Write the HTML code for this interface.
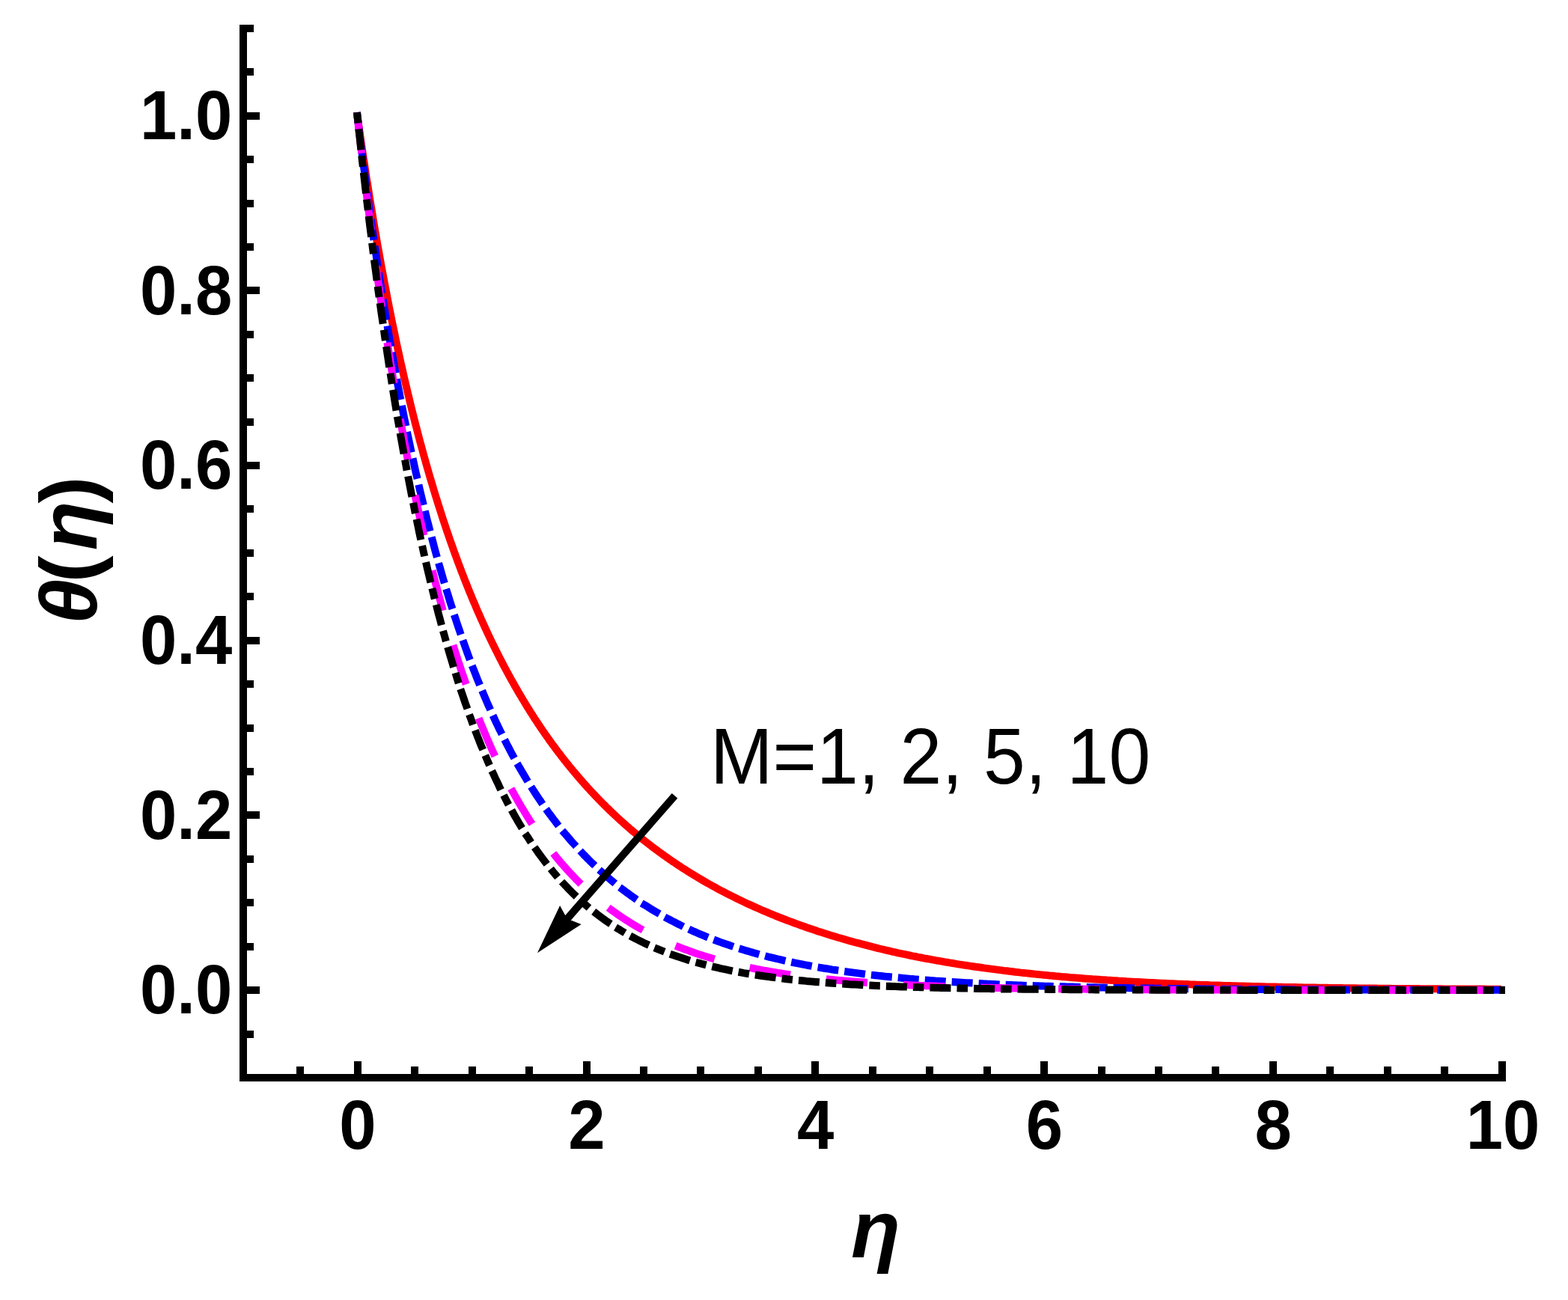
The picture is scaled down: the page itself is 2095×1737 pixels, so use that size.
<!DOCTYPE html>
<html lang="en"><head><meta charset="utf-8"><title>θ(η)</title>
<style>
html,body{margin:0;padding:0;background:#fff;}
body{width:2095px;height:1737px;overflow:hidden;}
svg{display:block;}
</style></head><body>
<svg width="2095" height="1737" viewBox="0 0 2095 1737">
<rect x="0" y="0" width="2095" height="1737" fill="#fff"/>
<g fill="#000">
<rect x="320" y="33" width="10" height="1412"/>
<rect x="320" y="1435" width="1692" height="10"/>
<rect x="320" y="1435" width="19" height="10"/>
<rect x="320" y="1377" width="19" height="10"/>
<rect x="320" y="1318" width="27" height="10"/>
<rect x="320" y="1260" width="19" height="10"/>
<rect x="320" y="1201" width="19" height="10"/>
<rect x="320" y="1143" width="19" height="10"/>
<rect x="320" y="1084" width="27" height="10"/>
<rect x="320" y="1026" width="19" height="10"/>
<rect x="320" y="968" width="19" height="10"/>
<rect x="320" y="909" width="19" height="10"/>
<rect x="320" y="851" width="27" height="10"/>
<rect x="320" y="792" width="19" height="10"/>
<rect x="320" y="734" width="19" height="10"/>
<rect x="320" y="675" width="19" height="10"/>
<rect x="320" y="617" width="27" height="10"/>
<rect x="320" y="559" width="19" height="10"/>
<rect x="320" y="500" width="19" height="10"/>
<rect x="320" y="442" width="19" height="10"/>
<rect x="320" y="383" width="27" height="10"/>
<rect x="320" y="325" width="19" height="10"/>
<rect x="320" y="267" width="19" height="10"/>
<rect x="320" y="208" width="19" height="10"/>
<rect x="320" y="150" width="27" height="10"/>
<rect x="320" y="91" width="19" height="10"/>
<rect x="320" y="33" width="19" height="10"/>
<rect x="320" y="1425" width="10" height="20"/>
<rect x="396" y="1425" width="10" height="20"/>
<rect x="473" y="1418" width="10" height="27"/>
<rect x="549" y="1425" width="10" height="20"/>
<rect x="626" y="1425" width="10" height="20"/>
<rect x="702" y="1425" width="10" height="20"/>
<rect x="779" y="1418" width="10" height="27"/>
<rect x="855" y="1425" width="10" height="20"/>
<rect x="931" y="1425" width="10" height="20"/>
<rect x="1008" y="1425" width="10" height="20"/>
<rect x="1084" y="1418" width="10" height="27"/>
<rect x="1161" y="1425" width="10" height="20"/>
<rect x="1237" y="1425" width="10" height="20"/>
<rect x="1314" y="1425" width="10" height="20"/>
<rect x="1390" y="1418" width="10" height="27"/>
<rect x="1467" y="1425" width="10" height="20"/>
<rect x="1543" y="1425" width="10" height="20"/>
<rect x="1619" y="1425" width="10" height="20"/>
<rect x="1696" y="1418" width="10" height="27"/>
<rect x="1772" y="1425" width="10" height="20"/>
<rect x="1849" y="1425" width="10" height="20"/>
<rect x="1925" y="1425" width="10" height="20"/>
<rect x="2002" y="1418" width="10" height="27"/>
</g>
<g font-family="'Liberation Sans', sans-serif" font-weight="bold" font-size="90" fill="#000">
<text transform="translate(310.3,1354.1) scale(0.985,1.036)" text-anchor="end">0.0</text>
<text transform="translate(310.3,1120.5) scale(0.985,1.036)" text-anchor="end">0.2</text>
<text transform="translate(310.3,886.9) scale(0.985,1.036)" text-anchor="end">0.4</text>
<text transform="translate(310.3,653.3) scale(0.985,1.036)" text-anchor="end">0.6</text>
<text transform="translate(310.3,419.7) scale(0.985,1.036)" text-anchor="end">0.8</text>
<text transform="translate(310.3,186.1) scale(0.985,1.036)" text-anchor="end">1.0</text>
<text transform="translate(478.0,1535.1) scale(0.985,1.036)" text-anchor="middle">0</text>
<text transform="translate(783.8,1535.1) scale(0.985,1.036)" text-anchor="middle">2</text>
<text transform="translate(1089.6,1535.1) scale(0.985,1.036)" text-anchor="middle">4</text>
<text transform="translate(1395.4,1535.1) scale(0.985,1.036)" text-anchor="middle">6</text>
<text transform="translate(1701.2,1535.1) scale(0.985,1.036)" text-anchor="middle">8</text>
<text transform="translate(2008.0,1535.1) scale(0.985,1.036)" text-anchor="middle">10</text>
</g>
<g font-family="'Liberation Sans', sans-serif" font-weight="bold" font-size="108" fill="#000">
<text x="1170" y="1680" text-anchor="middle" font-style="italic">η</text>
<text transform="translate(129,836.6) rotate(-90)" text-anchor="start"><tspan font-style="italic" dx="2.5">θ</tspan><tspan dx="-4.5">(</tspan><tspan font-style="italic" dx="7">η</tspan><tspan dx="-3">)</tspan></text>
</g>
<g fill="none" stroke-width="10" stroke-linejoin="round">
<path d="M477.5,155.0 L479.0,165.8 L480.6,176.5 L482.1,187.1 L483.6,197.5 L485.1,207.8 L486.7,217.9 L488.2,228.0 L489.7,237.9 L491.3,247.6 L492.8,257.3 L494.3,266.8 L495.9,276.2 L497.4,285.5 L498.9,294.7 L500.4,303.8 L502.0,312.7 L503.5,321.6 L505.0,330.3 L506.6,339.0 L508.1,347.5 L509.6,355.9 L511.2,364.3 L512.7,372.5 L514.2,380.6 L515.8,388.6 L517.3,396.6 L518.8,404.4 L520.3,412.2 L521.9,419.9 L523.4,427.4 L524.9,434.9 L526.5,442.3 L528.0,449.6 L529.5,456.9 L531.0,464.0 L532.6,471.1 L534.1,478.1 L535.6,485.0 L537.2,491.8 L538.7,498.6 L540.2,505.3 L541.8,511.9 L543.3,518.4 L544.8,524.9 L546.4,531.3 L547.9,537.6 L549.4,543.9 L550.9,550.0 L552.5,556.2 L554.0,562.2 L555.5,568.2 L557.1,574.1 L558.6,580.0 L560.1,585.8 L561.6,591.5 L563.2,597.2 L564.7,602.8 L566.2,608.4 L567.8,613.9 L569.3,619.3 L570.8,624.7 L572.4,630.1 L573.9,635.3 L575.4,640.6 L577.0,645.7 L578.5,650.9 L580.0,655.9 L581.5,660.9 L583.1,665.9 L584.6,670.8 L586.1,675.7 L587.7,680.5 L589.2,685.3 L590.7,690.0 L592.2,694.7 L593.8,699.3 L595.3,703.9 L596.8,708.5 L598.4,713.0 L599.9,717.4 L601.4,721.8 L603.0,726.2 L604.5,730.5 L606.0,734.8 L607.5,739.1 L609.1,743.3 L610.6,747.5 L612.1,751.6 L613.7,755.7 L615.2,759.7 L616.7,763.8 L618.3,767.7 L619.8,771.7 L621.3,775.6 L622.9,779.5 L624.4,783.3 L625.9,787.1 L627.4,790.9 L629.0,794.6 L630.5,798.3 L632.0,802.0 L633.6,805.6 L635.1,809.2 L636.6,812.8 L638.1,816.3 L639.7,819.8 L641.2,823.3 L642.7,826.8 L644.3,830.2 L645.8,833.6 L647.3,836.9 L648.9,840.3 L650.4,843.6 L651.9,846.8 L653.5,850.1 L655.0,853.3 L656.5,856.5 L658.0,859.6 L659.6,862.8 L661.1,865.9 L662.6,869.0 L664.2,872.0 L665.7,875.1 L667.2,878.1 L668.8,881.1 L670.3,884.0 L671.8,887.0 L673.3,889.9 L674.9,892.8 L676.4,895.6 L677.9,898.5 L679.5,901.3 L681.0,904.1 L682.5,906.9 L684.0,909.6 L685.6,912.3 L687.1,915.0 L688.6,917.7 L690.2,920.4 L691.7,923.0 L693.2,925.7 L694.8,928.3 L696.3,930.8 L697.8,933.4 L699.4,936.0 L700.9,938.5 L702.4,941.0 L703.9,943.5 L705.5,946.0 L707.0,948.4 L708.5,950.9 L710.1,953.3 L711.6,955.7 L713.1,958.1 L714.6,960.4 L716.2,962.8 L717.7,965.1 L719.2,967.4 L720.8,969.7 L722.3,972.0 L723.8,974.2 L725.4,976.5 L726.9,978.7 L728.4,980.9 L730.0,983.1 L731.5,985.3 L733.0,987.4 L734.5,989.6 L736.1,991.7 L737.6,993.8 L739.1,995.9 L740.7,997.9 L742.2,1000.0 L743.7,1002.1 L745.2,1004.1 L746.8,1006.1 L748.3,1008.1 L749.8,1010.1 L751.4,1012.1 L752.9,1014.0 L754.4,1016.0 L756.0,1017.9 L757.5,1019.8 L759.0,1021.7 L760.5,1023.6 L762.1,1025.5 L763.6,1027.3 L765.1,1029.2 L766.7,1031.0 L768.2,1032.8 L769.7,1034.6 L771.3,1036.4 L772.8,1038.2 L774.3,1040.0 L775.8,1041.8 L777.4,1043.5 L778.9,1045.3 L780.4,1047.0 L782.0,1048.7 L783.5,1050.4 L785.0,1052.1 L786.6,1053.8 L788.1,1055.5 L789.6,1057.1 L791.1,1058.8 L792.7,1060.4 L794.2,1062.0 L795.7,1063.6 L797.3,1065.2 L798.8,1066.8 L800.3,1068.4 L801.9,1070.0 L803.4,1071.5 L804.9,1073.1 L806.5,1074.6 L808.0,1076.1 L809.5,1077.6 L811.0,1079.2 L812.6,1080.6 L814.1,1082.1 L815.6,1083.6 L817.2,1085.1 L818.7,1086.5 L820.2,1088.0 L821.8,1089.4 L823.3,1090.8 L824.8,1092.3 L826.3,1093.7 L827.9,1095.1 L829.4,1096.5 L830.9,1097.8 L832.5,1099.2 L834.0,1100.6 L835.5,1101.9 L837.0,1103.3 L838.6,1104.6 L840.1,1105.9 L841.6,1107.3 L843.2,1108.6 L844.7,1109.9 L846.2,1111.2 L847.8,1112.5 L849.3,1113.7 L850.8,1115.0 L852.4,1116.3 L853.9,1117.5 L855.4,1118.8 L856.9,1120.0 L858.5,1121.3 L860.0,1122.5 L861.5,1123.7 L863.1,1124.9 L864.6,1126.1 L866.1,1127.3 L867.7,1128.5 L869.2,1129.7 L870.7,1130.8 L872.2,1132.0 L873.8,1133.2 L875.3,1134.3 L876.8,1135.4 L878.4,1136.6 L879.9,1137.7 L881.4,1138.8 L883.0,1139.9 L884.5,1141.0 L886.0,1142.1 L887.5,1143.2 L889.1,1144.3 L890.6,1145.4 L892.1,1146.5 L893.7,1147.5 L895.2,1148.6 L896.7,1149.6 L898.2,1150.7 L899.8,1151.7 L901.3,1152.7 L902.8,1153.8 L904.4,1154.8 L905.9,1155.8 L907.4,1156.8 L909.0,1157.8 L910.5,1158.8 L912.0,1159.8 L913.5,1160.8 L915.1,1161.8 L916.6,1162.7 L918.1,1163.7 L919.7,1164.7 L921.2,1165.6 L922.7,1166.6 L924.3,1167.5 L925.8,1168.4 L927.3,1169.4 L928.9,1170.3 L930.4,1171.2 L931.9,1172.1 L933.4,1173.1 L935.0,1174.0 L936.5,1174.9 L940.3,1177.1 L944.1,1179.3 L948.0,1181.5 L951.8,1183.6 L955.6,1185.7 L959.4,1187.8 L963.2,1189.8 L967.1,1191.8 L970.9,1193.8 L974.7,1195.7 L978.5,1197.6 L982.3,1199.5 L986.2,1201.4 L990.0,1203.2 L993.8,1205.1 L997.6,1206.9 L1001.4,1208.6 L1005.3,1210.4 L1009.1,1212.1 L1012.9,1213.8 L1016.7,1215.5 L1020.5,1217.1 L1024.3,1218.7 L1028.2,1220.3 L1032.0,1221.9 L1035.8,1223.5 L1039.6,1225.0 L1043.4,1226.5 L1047.3,1228.0 L1051.1,1229.5 L1054.9,1230.9 L1058.7,1232.3 L1062.5,1233.7 L1066.4,1235.1 L1070.2,1236.5 L1074.0,1237.8 L1077.8,1239.2 L1081.6,1240.5 L1085.5,1241.8 L1089.3,1243.1 L1093.1,1244.4 L1096.9,1245.6 L1100.7,1246.8 L1104.6,1248.0 L1108.4,1249.2 L1112.2,1250.4 L1116.0,1251.5 L1119.8,1252.7 L1123.7,1253.8 L1127.5,1254.9 L1131.3,1256.0 L1135.1,1257.1 L1138.9,1258.1 L1142.8,1259.2 L1146.6,1260.2 L1150.4,1261.2 L1154.2,1262.2 L1158.0,1263.2 L1161.9,1264.2 L1165.7,1265.2 L1169.5,1266.1 L1173.3,1267.1 L1177.1,1268.0 L1181.0,1268.9 L1184.8,1269.8 L1188.6,1270.7 L1192.4,1271.6 L1196.2,1272.4 L1200.0,1273.3 L1203.9,1274.1 L1207.7,1274.9 L1211.5,1275.7 L1215.3,1276.5 L1219.1,1277.3 L1223.0,1278.0 L1226.8,1278.8 L1230.6,1279.5 L1234.4,1280.3 L1238.2,1281.0 L1242.1,1281.7 L1245.9,1282.4 L1249.7,1283.1 L1253.5,1283.7 L1257.3,1284.4 L1261.2,1285.1 L1265.0,1285.7 L1268.8,1286.4 L1272.6,1287.0 L1276.4,1287.6 L1280.3,1288.3 L1284.1,1288.9 L1287.9,1289.5 L1291.7,1290.0 L1295.5,1290.6 L1299.4,1291.2 L1303.2,1291.8 L1307.0,1292.3 L1310.8,1292.8 L1314.6,1293.4 L1318.5,1293.9 L1322.3,1294.4 L1326.1,1294.9 L1329.9,1295.4 L1333.7,1295.9 L1337.6,1296.4 L1341.4,1296.9 L1345.2,1297.3 L1349.0,1297.8 L1352.8,1298.2 L1356.6,1298.7 L1360.5,1299.1 L1364.3,1299.6 L1368.1,1300.0 L1371.9,1300.4 L1375.7,1300.8 L1379.6,1301.2 L1383.4,1301.6 L1387.2,1302.0 L1391.0,1302.4 L1394.8,1302.8 L1398.7,1303.1 L1402.5,1303.5 L1406.3,1303.8 L1410.1,1304.2 L1413.9,1304.5 L1417.8,1304.9 L1421.6,1305.2 L1425.4,1305.5 L1429.2,1305.9 L1433.0,1306.2 L1436.9,1306.5 L1440.7,1306.8 L1444.5,1307.1 L1448.3,1307.4 L1452.1,1307.7 L1456.0,1308.0 L1459.8,1308.3 L1463.6,1308.5 L1467.4,1308.8 L1471.2,1309.1 L1475.1,1309.3 L1478.9,1309.6 L1482.7,1309.8 L1486.5,1310.1 L1490.3,1310.3 L1494.2,1310.6 L1498.0,1310.8 L1501.8,1311.0 L1505.6,1311.3 L1509.4,1311.5 L1513.2,1311.7 L1517.1,1311.9 L1520.9,1312.1 L1524.7,1312.3 L1528.5,1312.5 L1532.3,1312.7 L1536.2,1312.9 L1540.0,1313.1 L1543.8,1313.3 L1547.6,1313.5 L1551.4,1313.7 L1555.3,1313.8 L1559.1,1314.0 L1562.9,1314.2 L1566.7,1314.3 L1570.5,1314.5 L1574.4,1314.7 L1578.2,1314.8 L1582.0,1315.0 L1585.8,1315.1 L1589.6,1315.3 L1593.5,1315.4 L1597.3,1315.6 L1601.1,1315.7 L1604.9,1315.9 L1608.7,1316.0 L1612.6,1316.1 L1616.4,1316.3 L1620.2,1316.4 L1624.0,1316.5 L1627.8,1316.6 L1631.7,1316.7 L1635.5,1316.9 L1639.3,1317.0 L1643.1,1317.1 L1646.9,1317.2 L1650.8,1317.3 L1654.6,1317.4 L1658.4,1317.5 L1662.2,1317.6 L1666.0,1317.7 L1669.9,1317.8 L1673.7,1317.9 L1677.5,1318.0 L1681.3,1318.1 L1685.1,1318.2 L1688.9,1318.3 L1692.8,1318.4 L1696.6,1318.5 L1700.4,1318.5 L1704.2,1318.6 L1708.0,1318.7 L1711.9,1318.8 L1715.7,1318.9 L1719.5,1318.9 L1723.3,1319.0 L1727.1,1319.1 L1731.0,1319.1 L1734.8,1319.2 L1738.6,1319.3 L1742.4,1319.4 L1746.2,1319.4 L1750.1,1319.5 L1753.9,1319.5 L1757.7,1319.6 L1761.5,1319.7 L1765.3,1319.7 L1769.2,1319.8 L1773.0,1319.8 L1776.8,1319.9 L1780.6,1320.0 L1784.4,1320.0 L1788.3,1320.1 L1792.1,1320.1 L1795.9,1320.2 L1799.7,1320.2 L1803.5,1320.2 L1807.4,1320.3 L1811.2,1320.3 L1815.0,1320.4 L1818.8,1320.4 L1822.6,1320.5 L1826.5,1320.5 L1830.3,1320.6 L1834.1,1320.6 L1837.9,1320.6 L1841.7,1320.7 L1845.5,1320.7 L1849.4,1320.8 L1853.2,1320.8 L1857.0,1320.8 L1860.8,1320.9 L1864.6,1320.9 L1868.5,1320.9 L1872.3,1321.0 L1876.1,1321.0 L1879.9,1321.0 L1883.7,1321.1 L1887.6,1321.1 L1891.4,1321.1 L1895.2,1321.1 L1899.0,1321.2 L1902.8,1321.2 L1906.7,1321.2 L1910.5,1321.3 L1914.3,1321.3 L1918.1,1321.3 L1921.9,1321.3 L1925.8,1321.3 L1929.6,1321.4 L1933.4,1321.4 L1937.2,1321.4 L1941.0,1321.4 L1944.9,1321.5 L1948.7,1321.5 L1952.5,1321.5 L1956.3,1321.5 L1960.1,1321.5 L1964.0,1321.6 L1967.8,1321.6 L1971.6,1321.6 L1975.4,1321.6 L1979.2,1321.6 L1983.1,1321.6 L1986.9,1321.7 L1990.7,1321.7 L1994.5,1321.7 L1998.3,1321.7 L2002.2,1321.7 L2006.0,1321.7" stroke="#ff0000"/>
<path d="M477.5,155.0 L479.0,167.5 L480.6,179.9 L482.1,192.1 L483.6,204.1 L485.1,216.0 L486.7,227.8 L488.2,239.3 L489.7,250.8 L491.3,262.1 L492.8,273.2 L494.3,284.3 L495.9,295.1 L497.4,305.9 L498.9,316.5 L500.4,326.9 L502.0,337.3 L503.5,347.5 L505.0,357.6 L506.6,367.6 L508.1,377.4 L509.6,387.1 L511.2,396.7 L512.7,406.2 L514.2,415.6 L515.8,424.9 L517.3,434.0 L518.8,443.0 L520.3,452.0 L521.9,460.8 L523.4,469.5 L524.9,478.1 L526.5,486.6 L528.0,495.1 L529.5,503.4 L531.0,511.6 L532.6,519.7 L534.1,527.7 L535.6,535.7 L537.2,543.5 L538.7,551.3 L540.2,558.9 L541.8,566.5 L543.3,574.0 L544.8,581.4 L546.4,588.7 L547.9,595.9 L549.4,603.1 L550.9,610.1 L552.5,617.1 L554.0,624.0 L555.5,630.8 L557.1,637.6 L558.6,644.3 L560.1,650.9 L561.6,657.4 L563.2,663.9 L564.7,670.2 L566.2,676.6 L567.8,682.8 L569.3,689.0 L570.8,695.1 L572.4,701.1 L573.9,707.1 L575.4,713.0 L577.0,718.8 L578.5,724.6 L580.0,730.3 L581.5,736.0 L583.1,741.6 L584.6,747.1 L586.1,752.6 L587.7,758.0 L589.2,763.4 L590.7,768.7 L592.2,773.9 L593.8,779.1 L595.3,784.2 L596.8,789.3 L598.4,794.3 L599.9,799.3 L601.4,804.2 L603.0,809.1 L604.5,813.9 L606.0,818.7 L607.5,823.4 L609.1,828.1 L610.6,832.7 L612.1,837.3 L613.7,841.8 L615.2,846.3 L616.7,850.7 L618.3,855.1 L619.8,859.4 L621.3,863.7 L622.9,868.0 L624.4,872.2 L625.9,876.4 L627.4,880.5 L629.0,884.6 L630.5,888.6 L632.0,892.6 L633.6,896.6 L635.1,900.5 L636.6,904.4 L638.1,908.2 L639.7,912.0 L641.2,915.8 L642.7,919.5 L644.3,923.2 L645.8,926.8 L647.3,930.4 L648.9,934.0 L650.4,937.6 L651.9,941.1 L653.5,944.6 L655.0,948.0 L656.5,951.4 L658.0,954.8 L659.6,958.1 L661.1,961.4 L662.6,964.7 L664.2,967.9 L665.7,971.1 L667.2,974.3 L668.8,977.5 L670.3,980.6 L671.8,983.7 L673.3,986.7 L674.9,989.8 L676.4,992.8 L677.9,995.7 L679.5,998.7 L681.0,1001.6 L682.5,1004.5 L684.0,1007.3 L685.6,1010.2 L687.1,1013.0 L688.6,1015.7 L690.2,1018.5 L691.7,1021.2 L693.2,1023.9 L694.8,1026.6 L696.3,1029.2 L697.8,1031.8 L699.4,1034.4 L700.9,1037.0 L702.4,1039.6 L703.9,1042.1 L705.5,1044.6 L707.0,1047.1 L708.5,1049.5 L710.1,1051.9 L711.6,1054.3 L713.1,1056.7 L714.6,1059.1 L716.2,1061.4 L717.7,1063.7 L719.2,1066.0 L720.8,1068.3 L722.3,1070.6 L723.8,1072.8 L725.4,1075.0 L726.9,1077.2 L728.4,1079.4 L730.0,1081.5 L731.5,1083.7 L733.0,1085.8 L734.5,1087.9 L736.1,1089.9 L737.6,1092.0 L739.1,1094.0 L740.7,1096.0 L742.2,1098.0 L743.7,1100.0 L745.2,1102.0 L746.8,1103.9 L748.3,1105.8 L749.8,1107.7 L751.4,1109.6 L752.9,1111.5 L754.4,1113.4 L756.0,1115.2 L757.5,1117.0 L759.0,1118.8 L760.5,1120.6 L762.1,1122.4 L763.6,1124.2 L765.1,1125.9 L766.7,1127.6 L768.2,1129.3 L769.7,1131.0 L771.3,1132.7 L772.8,1134.4 L774.3,1136.0 L775.8,1137.6 L777.4,1139.3 L778.9,1140.9 L780.4,1142.5 L782.0,1144.0 L783.5,1145.6 L785.0,1147.1 L786.6,1148.7 L788.1,1150.2 L789.6,1151.7 L791.1,1153.2 L792.7,1154.7 L794.2,1156.1 L795.7,1157.6 L797.3,1159.0 L798.8,1160.5 L800.3,1161.9 L801.9,1163.3 L803.4,1164.7 L804.9,1166.0 L806.5,1167.4 L808.0,1168.8 L809.5,1170.1 L811.0,1171.4 L812.6,1172.7 L814.1,1174.0 L815.6,1175.3 L817.2,1176.6 L818.7,1177.9 L820.2,1179.2 L821.8,1180.4 L823.3,1181.6 L824.8,1182.9 L826.3,1184.1 L827.9,1185.3 L829.4,1186.5 L830.9,1187.7 L832.5,1188.8 L834.0,1190.0 L835.5,1191.1 L837.0,1192.3 L838.6,1193.4 L840.1,1194.5 L841.6,1195.7 L843.2,1196.8 L844.7,1197.9 L846.2,1198.9 L847.8,1200.0 L849.3,1201.1 L850.8,1202.1 L852.4,1203.2 L853.9,1204.2 L855.4,1205.2 L856.9,1206.3 L858.5,1207.3 L860.0,1208.3 L861.5,1209.3 L863.1,1210.2 L864.6,1211.2 L866.1,1212.2 L867.7,1213.1 L869.2,1214.1 L870.7,1215.0 L872.2,1216.0 L873.8,1216.9 L875.3,1217.8 L876.8,1218.7 L878.4,1219.6 L879.9,1220.5 L881.4,1221.4 L883.0,1222.3 L884.5,1223.1 L886.0,1224.0 L887.5,1224.9 L889.1,1225.7 L890.6,1226.6 L892.1,1227.4 L893.7,1228.2 L895.2,1229.0 L896.7,1229.8 L898.2,1230.6 L899.8,1231.4 L901.3,1232.2 L902.8,1233.0 L904.4,1233.8 L905.9,1234.6 L907.4,1235.3 L909.0,1236.1 L910.5,1236.8 L912.0,1237.6 L913.5,1238.3 L915.1,1239.0 L916.6,1239.8 L918.1,1240.5 L919.7,1241.2 L921.2,1241.9 L922.7,1242.6 L924.3,1243.3 L925.8,1244.0 L927.3,1244.7 L928.9,1245.3 L930.4,1246.0 L931.9,1246.7 L933.4,1247.3 L935.0,1248.0 L936.5,1248.6 L940.3,1250.2 L944.1,1251.8 L948.0,1253.3 L951.8,1254.8 L955.6,1256.3 L959.4,1257.7 L963.2,1259.1 L967.1,1260.5 L970.9,1261.8 L974.7,1263.1 L978.5,1264.4 L982.3,1265.6 L986.2,1266.9 L990.0,1268.1 L993.8,1269.2 L997.6,1270.4 L1001.4,1271.5 L1005.3,1272.6 L1009.1,1273.7 L1012.9,1274.8 L1016.7,1275.8 L1020.5,1276.8 L1024.3,1277.8 L1028.2,1278.8 L1032.0,1279.7 L1035.8,1280.6 L1039.6,1281.5 L1043.4,1282.4 L1047.3,1283.3 L1051.1,1284.2 L1054.9,1285.0 L1058.7,1285.8 L1062.5,1286.6 L1066.4,1287.4 L1070.2,1288.1 L1074.0,1288.9 L1077.8,1289.6 L1081.6,1290.3 L1085.5,1291.0 L1089.3,1291.7 L1093.1,1292.4 L1096.9,1293.1 L1100.7,1293.7 L1104.6,1294.3 L1108.4,1294.9 L1112.2,1295.6 L1116.0,1296.1 L1119.8,1296.7 L1123.7,1297.3 L1127.5,1297.8 L1131.3,1298.4 L1135.1,1298.9 L1138.9,1299.4 L1142.8,1299.9 L1146.6,1300.4 L1150.4,1300.9 L1154.2,1301.4 L1158.0,1301.9 L1161.9,1302.3 L1165.7,1302.8 L1169.5,1303.2 L1173.3,1303.6 L1177.1,1304.0 L1181.0,1304.5 L1184.8,1304.9 L1188.6,1305.2 L1192.4,1305.6 L1196.2,1306.0 L1200.0,1306.4 L1203.9,1306.7 L1207.7,1307.1 L1211.5,1307.4 L1215.3,1307.8 L1219.1,1308.1 L1223.0,1308.4 L1226.8,1308.7 L1230.6,1309.0 L1234.4,1309.3 L1238.2,1309.6 L1242.1,1309.9 L1245.9,1310.2 L1249.7,1310.5 L1253.5,1310.7 L1257.3,1311.0 L1261.2,1311.3 L1265.0,1311.5 L1268.8,1311.8 L1272.6,1312.0 L1276.4,1312.3 L1280.3,1312.5 L1284.1,1312.7 L1287.9,1312.9 L1291.7,1313.2 L1295.5,1313.4 L1299.4,1313.6 L1303.2,1313.8 L1307.0,1314.0 L1310.8,1314.2 L1314.6,1314.4 L1318.5,1314.6 L1322.3,1314.7 L1326.1,1314.9 L1329.9,1315.1 L1333.7,1315.3 L1337.6,1315.4 L1341.4,1315.6 L1345.2,1315.8 L1349.0,1315.9 L1352.8,1316.1 L1356.6,1316.2 L1360.5,1316.4 L1364.3,1316.5 L1368.1,1316.7 L1371.9,1316.8 L1375.7,1316.9 L1379.6,1317.1 L1383.4,1317.2 L1387.2,1317.3 L1391.0,1317.4 L1394.8,1317.6 L1398.7,1317.7 L1402.5,1317.8 L1406.3,1317.9 L1410.1,1318.0 L1413.9,1318.1 L1417.8,1318.2 L1421.6,1318.3 L1425.4,1318.4 L1429.2,1318.5 L1433.0,1318.6 L1436.9,1318.7 L1440.7,1318.8 L1444.5,1318.9 L1448.3,1319.0 L1452.1,1319.1 L1456.0,1319.2 L1459.8,1319.3 L1463.6,1319.3 L1467.4,1319.4 L1471.2,1319.5 L1475.1,1319.6 L1478.9,1319.6 L1482.7,1319.7 L1486.5,1319.8 L1490.3,1319.9 L1494.2,1319.9 L1498.0,1320.0 L1501.8,1320.1 L1505.6,1320.1 L1509.4,1320.2 L1513.2,1320.3 L1517.1,1320.3 L1520.9,1320.4 L1524.7,1320.4 L1528.5,1320.5 L1532.3,1320.5 L1536.2,1320.6 L1540.0,1320.6 L1543.8,1320.7 L1547.6,1320.7 L1551.4,1320.8 L1555.3,1320.8 L1559.1,1320.9 L1562.9,1320.9 L1566.7,1321.0 L1570.5,1321.0 L1574.4,1321.1 L1578.2,1321.1 L1582.0,1321.2 L1585.8,1321.2 L1589.6,1321.2 L1593.5,1321.3 L1597.3,1321.3 L1601.1,1321.3 L1604.9,1321.4 L1608.7,1321.4 L1612.6,1321.5 L1616.4,1321.5 L1620.2,1321.5 L1624.0,1321.6 L1627.8,1321.6 L1631.7,1321.6 L1635.5,1321.6 L1639.3,1321.7 L1643.1,1321.7 L1646.9,1321.7 L1650.8,1321.8 L1654.6,1321.8 L1658.4,1321.8 L1662.2,1321.8 L1666.0,1321.9 L1669.9,1321.9 L1673.7,1321.9 L1677.5,1321.9 L1681.3,1322.0 L1685.1,1322.0 L1688.9,1322.0 L1692.8,1322.0 L1696.6,1322.0 L1700.4,1322.1 L1704.2,1322.1 L1708.0,1322.1 L1711.9,1322.1 L1715.7,1322.1 L1719.5,1322.2 L1723.3,1322.2 L1727.1,1322.2 L1731.0,1322.2 L1734.8,1322.2 L1738.6,1322.3 L1742.4,1322.3 L1746.2,1322.3 L1750.1,1322.3 L1753.9,1322.3 L1757.7,1322.3 L1761.5,1322.3 L1765.3,1322.4 L1769.2,1322.4 L1773.0,1322.4 L1776.8,1322.4 L1780.6,1322.4 L1784.4,1322.4 L1788.3,1322.4 L1792.1,1322.5 L1795.9,1322.5 L1799.7,1322.5 L1803.5,1322.5 L1807.4,1322.5 L1811.2,1322.5 L1815.0,1322.5 L1818.8,1322.5 L1822.6,1322.5 L1826.5,1322.6 L1830.3,1322.6 L1834.1,1322.6 L1837.9,1322.6 L1841.7,1322.6 L1845.5,1322.6 L1849.4,1322.6 L1853.2,1322.6 L1857.0,1322.6 L1860.8,1322.6 L1864.6,1322.6 L1868.5,1322.6 L1872.3,1322.7 L1876.1,1322.7 L1879.9,1322.7 L1883.7,1322.7 L1887.6,1322.7 L1891.4,1322.7 L1895.2,1322.7 L1899.0,1322.7 L1902.8,1322.7 L1906.7,1322.7 L1910.5,1322.7 L1914.3,1322.7 L1918.1,1322.7 L1921.9,1322.7 L1925.8,1322.7 L1929.6,1322.8 L1933.4,1322.8 L1937.2,1322.8 L1941.0,1322.8 L1944.9,1322.8 L1948.7,1322.8 L1952.5,1322.8 L1956.3,1322.8 L1960.1,1322.8 L1964.0,1322.8 L1967.8,1322.8 L1971.6,1322.8 L1975.4,1322.8 L1979.2,1322.8 L1983.1,1322.8 L1986.9,1322.8 L1990.7,1322.8 L1994.5,1322.8 L1998.3,1322.8 L2002.2,1322.8 L2006.0,1322.8" stroke="#0000ff" stroke-dasharray="18.02 18.02" stroke-dashoffset="0" stroke-linecap="square"/>
<path d="M477.5,155.0 L479.0,168.6 L480.6,182.1 L482.1,195.3 L483.6,208.4 L485.1,221.3 L486.7,234.1 L488.2,246.6 L489.7,259.0 L491.3,271.3 L492.8,283.3 L494.3,295.3 L495.9,307.0 L497.4,318.6 L498.9,330.1 L500.4,341.4 L502.0,352.5 L503.5,363.6 L505.0,374.4 L506.6,385.2 L508.1,395.8 L509.6,406.2 L511.2,416.6 L512.7,426.8 L514.2,436.9 L515.8,446.8 L517.3,456.6 L518.8,466.3 L520.3,475.9 L521.9,485.4 L523.4,494.7 L524.9,503.9 L526.5,513.0 L528.0,522.0 L529.5,530.9 L531.0,539.7 L532.6,548.4 L534.1,556.9 L535.6,565.4 L537.2,573.8 L538.7,582.0 L540.2,590.2 L541.8,598.2 L543.3,606.2 L544.8,614.1 L546.4,621.9 L547.9,629.5 L549.4,637.1 L550.9,644.6 L552.5,652.0 L554.0,659.4 L555.5,666.6 L557.1,673.8 L558.6,680.8 L560.1,687.8 L561.6,694.7 L563.2,701.5 L564.7,708.3 L566.2,714.9 L567.8,721.5 L569.3,728.0 L570.8,734.5 L572.4,740.8 L573.9,747.1 L575.4,753.3 L577.0,759.5 L578.5,765.5 L580.0,771.5 L581.5,777.5 L583.1,783.3 L584.6,789.1 L586.1,794.9 L587.7,800.6 L589.2,806.2 L590.7,811.7 L592.2,817.2 L593.8,822.6 L595.3,827.9 L596.8,833.2 L598.4,838.5 L599.9,843.7 L601.4,848.8 L603.0,853.8 L604.5,858.8 L606.0,863.8 L607.5,868.7 L609.1,873.5 L610.6,878.3 L612.1,883.0 L613.7,887.7 L615.2,892.3 L616.7,896.9 L618.3,901.4 L619.8,905.9 L621.3,910.3 L622.9,914.7 L624.4,919.1 L625.9,923.3 L627.4,927.6 L629.0,931.8 L630.5,935.9 L632.0,940.0 L633.6,944.0 L635.1,948.1 L636.6,952.0 L638.1,955.9 L639.7,959.8 L641.2,963.7 L642.7,967.5 L644.3,971.2 L645.8,974.9 L647.3,978.6 L648.9,982.2 L650.4,985.8 L651.9,989.4 L653.5,992.9 L655.0,996.4 L656.5,999.8 L658.0,1003.2 L659.6,1006.6 L661.1,1009.9 L662.6,1013.2 L664.2,1016.5 L665.7,1019.7 L667.2,1022.9 L668.8,1026.0 L670.3,1029.1 L671.8,1032.2 L673.3,1035.3 L674.9,1038.3 L676.4,1041.3 L677.9,1044.3 L679.5,1047.2 L681.0,1050.1 L682.5,1052.9 L684.0,1055.8 L685.6,1058.6 L687.1,1061.4 L688.6,1064.1 L690.2,1066.8 L691.7,1069.5 L693.2,1072.2 L694.8,1074.8 L696.3,1077.4 L697.8,1080.0 L699.4,1082.5 L700.9,1085.0 L702.4,1087.5 L703.9,1090.0 L705.5,1092.4 L707.0,1094.9 L708.5,1097.2 L710.1,1099.6 L711.6,1101.9 L713.1,1104.3 L714.6,1106.5 L716.2,1108.8 L717.7,1111.1 L719.2,1113.3 L720.8,1115.5 L722.3,1117.6 L723.8,1119.8 L725.4,1121.9 L726.9,1124.0 L728.4,1126.1 L730.0,1128.2 L731.5,1130.2 L733.0,1132.2 L734.5,1134.2 L736.1,1136.2 L737.6,1138.1 L739.1,1140.1 L740.7,1142.0 L742.2,1143.9 L743.7,1145.8 L745.2,1147.6 L746.8,1149.4 L748.3,1151.3 L749.8,1153.1 L751.4,1154.8 L752.9,1156.6 L754.4,1158.3 L756.0,1160.0 L757.5,1161.8 L759.0,1163.4 L760.5,1165.1 L762.1,1166.8 L763.6,1168.4 L765.1,1170.0 L766.7,1171.6 L768.2,1173.2 L769.7,1174.8 L771.3,1176.3 L772.8,1177.8 L774.3,1179.4 L775.8,1180.9 L777.4,1182.3 L778.9,1183.8 L780.4,1185.3 L782.0,1186.7 L783.5,1188.1 L785.0,1189.5 L786.6,1190.9 L788.1,1192.3 L789.6,1193.7 L791.1,1195.0 L792.7,1196.4 L794.2,1197.7 L795.7,1199.0 L797.3,1200.3 L798.8,1201.6 L800.3,1202.9 L801.9,1204.1 L803.4,1205.4 L804.9,1206.6 L806.5,1207.8 L808.0,1209.0 L809.5,1210.2 L811.0,1211.4 L812.6,1212.5 L814.1,1213.7 L815.6,1214.8 L817.2,1216.0 L818.7,1217.1 L820.2,1218.2 L821.8,1219.3 L823.3,1220.4 L824.8,1221.5 L826.3,1222.5 L827.9,1223.6 L829.4,1224.6 L830.9,1225.6 L832.5,1226.7 L834.0,1227.7 L835.5,1228.7 L837.0,1229.6 L838.6,1230.6 L840.1,1231.6 L841.6,1232.5 L843.2,1233.5 L844.7,1234.4 L846.2,1235.4 L847.8,1236.3 L849.3,1237.2 L850.8,1238.1 L852.4,1239.0 L853.9,1239.9 L855.4,1240.7 L856.9,1241.6 L858.5,1242.4 L860.0,1243.3 L861.5,1244.1 L863.1,1244.9 L864.6,1245.8 L866.1,1246.6 L867.7,1247.4 L869.2,1248.2 L870.7,1248.9 L872.2,1249.7 L873.8,1250.5 L875.3,1251.2 L876.8,1252.0 L878.4,1252.7 L879.9,1253.5 L881.4,1254.2 L883.0,1254.9 L884.5,1255.6 L886.0,1256.3 L887.5,1257.0 L889.1,1257.7 L890.6,1258.4 L892.1,1259.1 L893.7,1259.8 L895.2,1260.4 L896.7,1261.1 L898.2,1261.7 L899.8,1262.4 L901.3,1263.0 L902.8,1263.6 L904.4,1264.3 L905.9,1264.9 L907.4,1265.5 L909.0,1266.1 L910.5,1266.7 L912.0,1267.3 L913.5,1267.9 L915.1,1268.4 L916.6,1269.0 L918.1,1269.6 L919.7,1270.1 L921.2,1270.7 L922.7,1271.2 L924.3,1271.8 L925.8,1272.3 L927.3,1272.9 L928.9,1273.4 L930.4,1273.9 L931.9,1274.4 L933.4,1274.9 L935.0,1275.4 L936.5,1275.9 L940.3,1277.2 L944.1,1278.3 L948.0,1279.5 L951.8,1280.6 L955.6,1281.7 L959.4,1282.8 L963.2,1283.9 L967.1,1284.9 L970.9,1285.9 L974.7,1286.8 L978.5,1287.8 L982.3,1288.7 L986.2,1289.6 L990.0,1290.5 L993.8,1291.3 L997.6,1292.1 L1001.4,1292.9 L1005.3,1293.7 L1009.1,1294.5 L1012.9,1295.2 L1016.7,1296.0 L1020.5,1296.7 L1024.3,1297.3 L1028.2,1298.0 L1032.0,1298.7 L1035.8,1299.3 L1039.6,1299.9 L1043.4,1300.5 L1047.3,1301.1 L1051.1,1301.7 L1054.9,1302.2 L1058.7,1302.8 L1062.5,1303.3 L1066.4,1303.8 L1070.2,1304.3 L1074.0,1304.8 L1077.8,1305.3 L1081.6,1305.7 L1085.5,1306.2 L1089.3,1306.6 L1093.1,1307.1 L1096.9,1307.5 L1100.7,1307.9 L1104.6,1308.3 L1108.4,1308.7 L1112.2,1309.0 L1116.0,1309.4 L1119.8,1309.8 L1123.7,1310.1 L1127.5,1310.4 L1131.3,1310.8 L1135.1,1311.1 L1138.9,1311.4 L1142.8,1311.7 L1146.6,1312.0 L1150.4,1312.3 L1154.2,1312.6 L1158.0,1312.8 L1161.9,1313.1 L1165.7,1313.4 L1169.5,1313.6 L1173.3,1313.9 L1177.1,1314.1 L1181.0,1314.3 L1184.8,1314.6 L1188.6,1314.8 L1192.4,1315.0 L1196.2,1315.2 L1200.0,1315.4 L1203.9,1315.6 L1207.7,1315.8 L1211.5,1316.0 L1215.3,1316.2 L1219.1,1316.4 L1223.0,1316.5 L1226.8,1316.7 L1230.6,1316.9 L1234.4,1317.0 L1238.2,1317.2 L1242.1,1317.3 L1245.9,1317.5 L1249.7,1317.6 L1253.5,1317.8 L1257.3,1317.9 L1261.2,1318.0 L1265.0,1318.2 L1268.8,1318.3 L1272.6,1318.4 L1276.4,1318.5 L1280.3,1318.7 L1284.1,1318.8 L1287.9,1318.9 L1291.7,1319.0 L1295.5,1319.1 L1299.4,1319.2 L1303.2,1319.3 L1307.0,1319.4 L1310.8,1319.5 L1314.6,1319.6 L1318.5,1319.7 L1322.3,1319.8 L1326.1,1319.8 L1329.9,1319.9 L1333.7,1320.0 L1337.6,1320.1 L1341.4,1320.2 L1345.2,1320.2 L1349.0,1320.3 L1352.8,1320.4 L1356.6,1320.4 L1360.5,1320.5 L1364.3,1320.6 L1368.1,1320.6 L1371.9,1320.7 L1375.7,1320.8 L1379.6,1320.8 L1383.4,1320.9 L1387.2,1320.9 L1391.0,1321.0 L1394.8,1321.0 L1398.7,1321.1 L1402.5,1321.1 L1406.3,1321.2 L1410.1,1321.2 L1413.9,1321.3 L1417.8,1321.3 L1421.6,1321.4 L1425.4,1321.4 L1429.2,1321.5 L1433.0,1321.5 L1436.9,1321.5 L1440.7,1321.6 L1444.5,1321.6 L1448.3,1321.6 L1452.1,1321.7 L1456.0,1321.7 L1459.8,1321.8 L1463.6,1321.8 L1467.4,1321.8 L1471.2,1321.8 L1475.1,1321.9 L1478.9,1321.9 L1482.7,1321.9 L1486.5,1322.0 L1490.3,1322.0 L1494.2,1322.0 L1498.0,1322.0 L1501.8,1322.1 L1505.6,1322.1 L1509.4,1322.1 L1513.2,1322.1 L1517.1,1322.2 L1520.9,1322.2 L1524.7,1322.2 L1528.5,1322.2 L1532.3,1322.2 L1536.2,1322.3 L1540.0,1322.3 L1543.8,1322.3 L1547.6,1322.3 L1551.4,1322.3 L1555.3,1322.4 L1559.1,1322.4 L1562.9,1322.4 L1566.7,1322.4 L1570.5,1322.4 L1574.4,1322.4 L1578.2,1322.5 L1582.0,1322.5 L1585.8,1322.5 L1589.6,1322.5 L1593.5,1322.5 L1597.3,1322.5 L1601.1,1322.5 L1604.9,1322.5 L1608.7,1322.6 L1612.6,1322.6 L1616.4,1322.6 L1620.2,1322.6 L1624.0,1322.6 L1627.8,1322.6 L1631.7,1322.6 L1635.5,1322.6 L1639.3,1322.6 L1643.1,1322.7 L1646.9,1322.7 L1650.8,1322.7 L1654.6,1322.7 L1658.4,1322.7 L1662.2,1322.7 L1666.0,1322.7 L1669.9,1322.7 L1673.7,1322.7 L1677.5,1322.7 L1681.3,1322.7 L1685.1,1322.7 L1688.9,1322.7 L1692.8,1322.8 L1696.6,1322.8 L1700.4,1322.8 L1704.2,1322.8 L1708.0,1322.8 L1711.9,1322.8 L1715.7,1322.8 L1719.5,1322.8 L1723.3,1322.8 L1727.1,1322.8 L1731.0,1322.8 L1734.8,1322.8 L1738.6,1322.8 L1742.4,1322.8 L1746.2,1322.8 L1750.1,1322.8 L1753.9,1322.8 L1757.7,1322.8 L1761.5,1322.8 L1765.3,1322.9 L1769.2,1322.9 L1773.0,1322.9 L1776.8,1322.9 L1780.6,1322.9 L1784.4,1322.9 L1788.3,1322.9 L1792.1,1322.9 L1795.9,1322.9 L1799.7,1322.9 L1803.5,1322.9 L1807.4,1322.9 L1811.2,1322.9 L1815.0,1322.9 L1818.8,1322.9 L1822.6,1322.9 L1826.5,1322.9 L1830.3,1322.9 L1834.1,1322.9 L1837.9,1322.9 L1841.7,1322.9 L1845.5,1322.9 L1849.4,1322.9 L1853.2,1322.9 L1857.0,1322.9 L1860.8,1322.9 L1864.6,1322.9 L1868.5,1322.9 L1872.3,1322.9 L1876.1,1322.9 L1879.9,1322.9 L1883.7,1322.9 L1887.6,1322.9 L1891.4,1322.9 L1895.2,1322.9 L1899.0,1322.9 L1902.8,1322.9 L1906.7,1322.9 L1910.5,1322.9 L1914.3,1322.9 L1918.1,1322.9 L1921.9,1323.0 L1925.8,1323.0 L1929.6,1323.0 L1933.4,1323.0 L1937.2,1323.0 L1941.0,1323.0 L1944.9,1323.0 L1948.7,1323.0 L1952.5,1323.0 L1956.3,1323.0 L1960.1,1323.0 L1964.0,1323.0 L1967.8,1323.0 L1971.6,1323.0 L1975.4,1323.0 L1979.2,1323.0 L1983.1,1323.0 L1986.9,1323.0 L1990.7,1323.0 L1994.5,1323.0 L1998.3,1323.0 L2002.2,1323.0 L2006.0,1323.0" stroke="#ff00ff" stroke-dasharray="45.2 58.3" stroke-dashoffset="0" stroke-linecap="square"/>
<path d="M477.5,155.0 L479.0,169.4 L480.6,183.5 L482.1,197.5 L483.6,211.2 L485.1,224.8 L486.7,238.2 L488.2,251.4 L489.7,264.4 L491.3,277.2 L492.8,289.9 L494.3,302.4 L495.9,314.7 L497.4,326.9 L498.9,338.8 L500.4,350.7 L502.0,362.4 L503.5,373.9 L505.0,385.3 L506.6,396.5 L508.1,407.6 L509.6,418.5 L511.2,429.3 L512.7,439.9 L514.2,450.4 L515.8,460.8 L517.3,471.0 L518.8,481.1 L520.3,491.1 L521.9,501.0 L523.4,510.7 L524.9,520.3 L526.5,529.8 L528.0,539.1 L529.5,548.4 L531.0,557.5 L532.6,566.5 L534.1,575.4 L535.6,584.2 L537.2,592.9 L538.7,601.4 L540.2,609.9 L541.8,618.3 L543.3,626.5 L544.8,634.7 L546.4,642.7 L547.9,650.7 L549.4,658.5 L550.9,666.3 L552.5,673.9 L554.0,681.5 L555.5,689.0 L557.1,696.4 L558.6,703.6 L560.1,710.9 L561.6,718.0 L563.2,725.0 L564.7,732.0 L566.2,738.8 L567.8,745.6 L569.3,752.3 L570.8,758.9 L572.4,765.5 L573.9,771.9 L575.4,778.3 L577.0,784.6 L578.5,790.8 L580.0,797.0 L581.5,803.1 L583.1,809.1 L584.6,815.0 L586.1,820.9 L587.7,826.7 L589.2,832.4 L590.7,838.1 L592.2,843.7 L593.8,849.2 L595.3,854.7 L596.8,860.1 L598.4,865.4 L599.9,870.7 L601.4,875.9 L603.0,881.1 L604.5,886.2 L606.0,891.2 L607.5,896.2 L609.1,901.1 L610.6,906.0 L612.1,910.8 L613.7,915.5 L615.2,920.2 L616.7,924.8 L618.3,929.4 L619.8,933.9 L621.3,938.4 L622.9,942.8 L624.4,947.2 L625.9,951.5 L627.4,955.8 L629.0,960.0 L630.5,964.2 L632.0,968.3 L633.6,972.4 L635.1,976.4 L636.6,980.4 L638.1,984.3 L639.7,988.2 L641.2,992.1 L642.7,995.9 L644.3,999.6 L645.8,1003.4 L647.3,1007.0 L648.9,1010.6 L650.4,1014.2 L651.9,1017.8 L653.5,1021.3 L655.0,1024.8 L656.5,1028.2 L658.0,1031.6 L659.6,1034.9 L661.1,1038.2 L662.6,1041.5 L664.2,1044.7 L665.7,1047.9 L667.2,1051.1 L668.8,1054.2 L670.3,1057.3 L671.8,1060.3 L673.3,1063.3 L674.9,1066.3 L676.4,1069.3 L677.9,1072.2 L679.5,1075.1 L681.0,1077.9 L682.5,1080.7 L684.0,1083.5 L685.6,1086.2 L687.1,1089.0 L688.6,1091.6 L690.2,1094.3 L691.7,1096.9 L693.2,1099.5 L694.8,1102.1 L696.3,1104.6 L697.8,1107.1 L699.4,1109.6 L700.9,1112.1 L702.4,1114.5 L703.9,1116.9 L705.5,1119.2 L707.0,1121.6 L708.5,1123.9 L710.1,1126.2 L711.6,1128.4 L713.1,1130.7 L714.6,1132.9 L716.2,1135.1 L717.7,1137.2 L719.2,1139.4 L720.8,1141.5 L722.3,1143.6 L723.8,1145.6 L725.4,1147.6 L726.9,1149.7 L728.4,1151.7 L730.0,1153.6 L731.5,1155.6 L733.0,1157.5 L734.5,1159.4 L736.1,1161.3 L737.6,1163.1 L739.1,1165.0 L740.7,1166.8 L742.2,1168.6 L743.7,1170.4 L745.2,1172.1 L746.8,1173.8 L748.3,1175.6 L749.8,1177.2 L751.4,1178.9 L752.9,1180.6 L754.4,1182.2 L756.0,1183.8 L757.5,1185.4 L759.0,1187.0 L760.5,1188.6 L762.1,1190.1 L763.6,1191.7 L765.1,1193.2 L766.7,1194.7 L768.2,1196.1 L769.7,1197.6 L771.3,1199.0 L772.8,1200.5 L774.3,1201.9 L775.8,1203.3 L777.4,1204.6 L778.9,1206.0 L780.4,1207.3 L782.0,1208.7 L783.5,1210.0 L785.0,1211.3 L786.6,1212.6 L788.1,1213.8 L789.6,1215.1 L791.1,1216.3 L792.7,1217.6 L794.2,1218.8 L795.7,1220.0 L797.3,1221.2 L798.8,1222.3 L800.3,1223.5 L801.9,1224.6 L803.4,1225.8 L804.9,1226.9 L806.5,1228.0 L808.0,1229.1 L809.5,1230.2 L811.0,1231.3 L812.6,1232.3 L814.1,1233.4 L815.6,1234.4 L817.2,1235.4 L818.7,1236.4 L820.2,1237.4 L821.8,1238.4 L823.3,1239.4 L824.8,1240.3 L826.3,1241.3 L827.9,1242.2 L829.4,1243.2 L830.9,1244.1 L832.5,1245.0 L834.0,1245.9 L835.5,1246.8 L837.0,1247.7 L838.6,1248.5 L840.1,1249.4 L841.6,1250.2 L843.2,1251.1 L844.7,1251.9 L846.2,1252.7 L847.8,1253.5 L849.3,1254.3 L850.8,1255.1 L852.4,1255.9 L853.9,1256.7 L855.4,1257.4 L856.9,1258.2 L858.5,1258.9 L860.0,1259.7 L861.5,1260.4 L863.1,1261.1 L864.6,1261.8 L866.1,1262.6 L867.7,1263.2 L869.2,1263.9 L870.7,1264.6 L872.2,1265.3 L873.8,1266.0 L875.3,1266.6 L876.8,1267.3 L878.4,1267.9 L879.9,1268.5 L881.4,1269.2 L883.0,1269.8 L884.5,1270.4 L886.0,1271.0 L887.5,1271.6 L889.1,1272.2 L890.6,1272.8 L892.1,1273.4 L893.7,1273.9 L895.2,1274.5 L896.7,1275.1 L898.2,1275.6 L899.8,1276.2 L901.3,1276.7 L902.8,1277.2 L904.4,1277.8 L905.9,1278.3 L907.4,1278.8 L909.0,1279.3 L910.5,1279.8 L912.0,1280.3 L913.5,1280.8 L915.1,1281.3 L916.6,1281.8 L918.1,1282.3 L919.7,1282.7 L921.2,1283.2 L922.7,1283.7 L924.3,1284.1 L925.8,1284.6 L927.3,1285.0 L928.9,1285.4 L930.4,1285.9 L931.9,1286.3 L933.4,1286.7 L935.0,1287.1 L936.5,1287.6 L940.3,1288.6 L944.1,1289.6 L948.0,1290.5 L951.8,1291.4 L955.6,1292.3 L959.4,1293.2 L963.2,1294.1 L967.1,1294.9 L970.9,1295.7 L974.7,1296.5 L978.5,1297.2 L982.3,1298.0 L986.2,1298.7 L990.0,1299.4 L993.8,1300.1 L997.6,1300.7 L1001.4,1301.4 L1005.3,1302.0 L1009.1,1302.6 L1012.9,1303.2 L1016.7,1303.7 L1020.5,1304.3 L1024.3,1304.8 L1028.2,1305.3 L1032.0,1305.8 L1035.8,1306.3 L1039.6,1306.8 L1043.4,1307.3 L1047.3,1307.7 L1051.1,1308.2 L1054.9,1308.6 L1058.7,1309.0 L1062.5,1309.4 L1066.4,1309.8 L1070.2,1310.2 L1074.0,1310.5 L1077.8,1310.9 L1081.6,1311.2 L1085.5,1311.6 L1089.3,1311.9 L1093.1,1312.2 L1096.9,1312.5 L1100.7,1312.8 L1104.6,1313.1 L1108.4,1313.4 L1112.2,1313.7 L1116.0,1313.9 L1119.8,1314.2 L1123.7,1314.5 L1127.5,1314.7 L1131.3,1314.9 L1135.1,1315.2 L1138.9,1315.4 L1142.8,1315.6 L1146.6,1315.8 L1150.4,1316.0 L1154.2,1316.2 L1158.0,1316.4 L1161.9,1316.6 L1165.7,1316.8 L1169.5,1317.0 L1173.3,1317.1 L1177.1,1317.3 L1181.0,1317.5 L1184.8,1317.6 L1188.6,1317.8 L1192.4,1317.9 L1196.2,1318.1 L1200.0,1318.2 L1203.9,1318.4 L1207.7,1318.5 L1211.5,1318.6 L1215.3,1318.7 L1219.1,1318.9 L1223.0,1319.0 L1226.8,1319.1 L1230.6,1319.2 L1234.4,1319.3 L1238.2,1319.4 L1242.1,1319.5 L1245.9,1319.6 L1249.7,1319.7 L1253.5,1319.8 L1257.3,1319.9 L1261.2,1320.0 L1265.0,1320.1 L1268.8,1320.2 L1272.6,1320.2 L1276.4,1320.3 L1280.3,1320.4 L1284.1,1320.5 L1287.9,1320.6 L1291.7,1320.6 L1295.5,1320.7 L1299.4,1320.8 L1303.2,1320.8 L1307.0,1320.9 L1310.8,1320.9 L1314.6,1321.0 L1318.5,1321.1 L1322.3,1321.1 L1326.1,1321.2 L1329.9,1321.2 L1333.7,1321.3 L1337.6,1321.3 L1341.4,1321.4 L1345.2,1321.4 L1349.0,1321.5 L1352.8,1321.5 L1356.6,1321.5 L1360.5,1321.6 L1364.3,1321.6 L1368.1,1321.7 L1371.9,1321.7 L1375.7,1321.7 L1379.6,1321.8 L1383.4,1321.8 L1387.2,1321.8 L1391.0,1321.9 L1394.8,1321.9 L1398.7,1321.9 L1402.5,1322.0 L1406.3,1322.0 L1410.1,1322.0 L1413.9,1322.1 L1417.8,1322.1 L1421.6,1322.1 L1425.4,1322.1 L1429.2,1322.2 L1433.0,1322.2 L1436.9,1322.2 L1440.7,1322.2 L1444.5,1322.3 L1448.3,1322.3 L1452.1,1322.3 L1456.0,1322.3 L1459.8,1322.3 L1463.6,1322.4 L1467.4,1322.4 L1471.2,1322.4 L1475.1,1322.4 L1478.9,1322.4 L1482.7,1322.4 L1486.5,1322.5 L1490.3,1322.5 L1494.2,1322.5 L1498.0,1322.5 L1501.8,1322.5 L1505.6,1322.5 L1509.4,1322.5 L1513.2,1322.6 L1517.1,1322.6 L1520.9,1322.6 L1524.7,1322.6 L1528.5,1322.6 L1532.3,1322.6 L1536.2,1322.6 L1540.0,1322.6 L1543.8,1322.7 L1547.6,1322.7 L1551.4,1322.7 L1555.3,1322.7 L1559.1,1322.7 L1562.9,1322.7 L1566.7,1322.7 L1570.5,1322.7 L1574.4,1322.7 L1578.2,1322.7 L1582.0,1322.7 L1585.8,1322.7 L1589.6,1322.8 L1593.5,1322.8 L1597.3,1322.8 L1601.1,1322.8 L1604.9,1322.8 L1608.7,1322.8 L1612.6,1322.8 L1616.4,1322.8 L1620.2,1322.8 L1624.0,1322.8 L1627.8,1322.8 L1631.7,1322.8 L1635.5,1322.8 L1639.3,1322.8 L1643.1,1322.8 L1646.9,1322.8 L1650.8,1322.8 L1654.6,1322.8 L1658.4,1322.9 L1662.2,1322.9 L1666.0,1322.9 L1669.9,1322.9 L1673.7,1322.9 L1677.5,1322.9 L1681.3,1322.9 L1685.1,1322.9 L1688.9,1322.9 L1692.8,1322.9 L1696.6,1322.9 L1700.4,1322.9 L1704.2,1322.9 L1708.0,1322.9 L1711.9,1322.9 L1715.7,1322.9 L1719.5,1322.9 L1723.3,1322.9 L1727.1,1322.9 L1731.0,1322.9 L1734.8,1322.9 L1738.6,1322.9 L1742.4,1322.9 L1746.2,1322.9 L1750.1,1322.9 L1753.9,1322.9 L1757.7,1322.9 L1761.5,1322.9 L1765.3,1322.9 L1769.2,1322.9 L1773.0,1322.9 L1776.8,1322.9 L1780.6,1322.9 L1784.4,1322.9 L1788.3,1322.9 L1792.1,1322.9 L1795.9,1322.9 L1799.7,1323.0 L1803.5,1323.0 L1807.4,1323.0 L1811.2,1323.0 L1815.0,1323.0 L1818.8,1323.0 L1822.6,1323.0 L1826.5,1323.0 L1830.3,1323.0 L1834.1,1323.0 L1837.9,1323.0 L1841.7,1323.0 L1845.5,1323.0 L1849.4,1323.0 L1853.2,1323.0 L1857.0,1323.0 L1860.8,1323.0 L1864.6,1323.0 L1868.5,1323.0 L1872.3,1323.0 L1876.1,1323.0 L1879.9,1323.0 L1883.7,1323.0 L1887.6,1323.0 L1891.4,1323.0 L1895.2,1323.0 L1899.0,1323.0 L1902.8,1323.0 L1906.7,1323.0 L1910.5,1323.0 L1914.3,1323.0 L1918.1,1323.0 L1921.9,1323.0 L1925.8,1323.0 L1929.6,1323.0 L1933.4,1323.0 L1937.2,1323.0 L1941.0,1323.0 L1944.9,1323.0 L1948.7,1323.0 L1952.5,1323.0 L1956.3,1323.0 L1960.1,1323.0 L1964.0,1323.0 L1967.8,1323.0 L1971.6,1323.0 L1975.4,1323.0 L1979.2,1323.0 L1983.1,1323.0 L1986.9,1323.0 L1990.7,1323.0 L1994.5,1323.0 L1998.3,1323.0 L2002.2,1323.0 L2006.0,1323.0" stroke="#000" stroke-dasharray="4.5 18.03 18.03 18.03" stroke-dashoffset="0" stroke-linecap="square"/>
<rect x="2003" y="1318" width="8" height="10" fill="#000" stroke="none"/>
</g>
<g fill="#000" stroke="none">
<path d="M905.3,1066.6 L897.7,1060.0 L752.4,1226.2 L759.9,1232.8 Z"/>
<path d="M718.0,1273.2 L776.7,1234.9 L757.8,1227.7 L748.1,1209.9 Z"/>
</g>
<text transform="translate(949,1047) scale(1.003,1.048)" font-family="'Liberation Sans', sans-serif" font-size="100" fill="#000">M=1, 2, 5, 10</text>
</svg>
</body></html>
